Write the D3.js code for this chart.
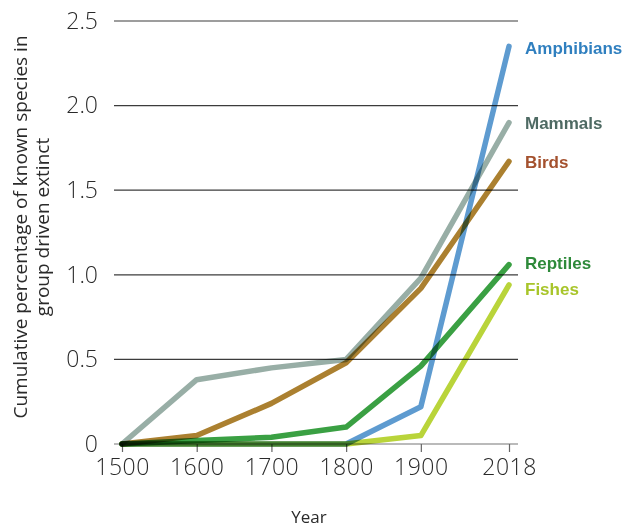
<!DOCTYPE html>
<html><head><meta charset="utf-8">
<script src="https://cdn.jsdelivr.net/npm/d3@7"></script>
<style>body{margin:0;background:#fff}</style>
</head><body>
<svg id="chart" width="626" height="529"></svg>
<script>
const years = [1500, 1600, 1700, 1800, 1900, 2018];
const yTicks = [0, 0.5, 1.0, 1.5, 2.0, 2.5];
const yTickLabels = ["0", "0.5", "1.0", "1.5", "2.0", "2.5"];
const seriesNames = ["Mammals", "Birds", "Reptiles", "Fishes", "Amphibians"];
const mammals = [0, 0.38, 0.45, 0.50, 0.98, 1.90];
const birds = [0, 0.05, 0.24, 0.48, 0.92, 1.67];
const reptiles = [0, 0.02, 0.04, 0.10, 0.46, 1.06];
const fishes = [0, 0, 0, 0, 0.05, 0.94];
const amphibians = [0, 0, 0, 0, 0.22, 2.35];
const values = [mammals, birds, reptiles, fishes, amphibians];
const lineColors = ["#98aea6", "#ab8030", "#3aa043", "#b9d43a", "#5e9bd0"];
const labelColors = ["#4e6a63", "#a4512e", "#2e8a3a", "#a8c52a", "#2f7fbf"];
const labelY = [123, 162, 263, 289, 48];

const svg = d3.select("#chart");
const x = d3.scaleLinear().domain([1500, 2018]).range([122, 509]);
const y = d3.scaleLinear().domain([0, 2.5]).range([444, 21]);

// gridlines
svg.append("g").selectAll("line").data(yTicks).join("line")
  .attr("x1", 114).attr("x2", 518)
  .attr("y1", d => y(d)).attr("y2", d => y(d))
  .attr("stroke", d => d === 0 ? "#777" : "#3c3c3c").attr("stroke-width", 1.2);

// y tick labels
svg.append("g").selectAll("text").data(yTicks).join("text")
  .attr("x", 98).attr("y", d => y(d)).attr("dy", "0.34em")
  .attr("text-anchor", "end")
  .attr("font-family", "Open Sans, sans-serif").attr("font-weight", 300)
  .attr("font-size", 23).attr("fill", "#2a2a2a")
  .text((d, i) => yTickLabels[i]);

// x axis ticks
const xAxis = d3.axisBottom(x).tickValues(years).tickFormat(d3.format("d")).tickSize(8).tickPadding(7);
const xg = svg.append("g").attr("transform", `translate(0,${y(0)})`).call(xAxis);
xg.select(".domain").remove();
xg.selectAll(".tick line").attr("stroke", "#666").attr("stroke-width", 1.2);
xg.selectAll("text").attr("font-family", "Open Sans, sans-serif").attr("font-weight", 300)
  .attr("font-size", 23).attr("letter-spacing", 0.5).attr("fill", "#2a2a2a");

// lines
const line = d3.line().x((d, i) => x(years[i])).y(d => y(d));
svg.append("g").selectAll("path").data(values).join("path")
  .attr("d", d => line(d))
  .attr("fill", "none")
  .attr("stroke", (d, i) => lineColors[i])
  .attr("stroke-width", 5.5)
  .attr("stroke-linejoin", "round")
  .attr("stroke-linecap", "round")
  .style("mix-blend-mode", "multiply");

// labels
svg.append("g").selectAll("text").data(seriesNames).join("text")
  .attr("x", 525)
  .attr("y", (d, i) => labelY[i])
  .attr("dy", "0.35em")
  .attr("font-family", "Liberation Sans Narrow, Arial Narrow, sans-serif")
  .attr("font-weight", "bold").attr("font-size", 17)
  .attr("fill", (d, i) => labelColors[i])
  .text(d => d);

// axis titles
svg.append("text").attr("x", 309).attr("y", 523).attr("text-anchor", "middle")
  .attr("font-family", "Open Sans, sans-serif").attr("font-size", 17).attr("fill", "#2a2a2a").text("Year");
const yt = svg.append("text").attr("transform", "translate(27,227) rotate(-90)")
  .attr("text-anchor", "middle")
  .attr("font-family", "Open Sans, sans-serif").attr("font-size", 19).attr("fill", "#2a2a2a");
yt.append("tspan").attr("x", 0).attr("dy", 0).text("Cumulative percentage of known species in");
yt.append("tspan").attr("x", 0).attr("dy", 22).text("group driven extinct");
</script>
</body></html>
